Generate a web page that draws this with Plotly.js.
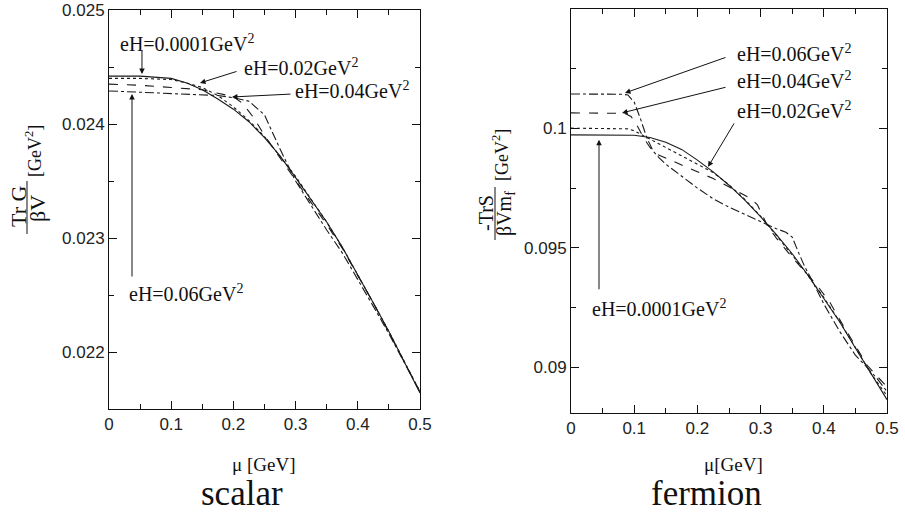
<!DOCTYPE html>
<html>
<head>
<meta charset="utf-8">
<script src="https://cdn.plot.ly/plotly-3.0.1.min.js"></script>
<style>html,body{margin:0;padding:0;background:#fff;}#chart{width:905px;height:514px;}</style>
</head>
<body>
<div id="chart"></div>
<script>
// ---------- scalar panel (left) ----------
const muS = [0, 0.05, 0.1, 0.125, 0.15, 0.175, 0.2, 0.225, 0.25, 0.275, 0.3, 0.325, 0.35, 0.375, 0.4, 0.425, 0.45, 0.475, 0.5];
const scalar_0001 = [0.02442, 0.02442, 0.02440, 0.02436, 0.02430, 0.02422, 0.02413, 0.02402, 0.02388, 0.02372, 0.02353, 0.02334, 0.02314, 0.02292, 0.02268, 0.02243, 0.02218, 0.02191, 0.02164];
const scalar_002  = [0.02440, 0.02440, 0.02439, 0.02436, 0.02432, 0.02425, 0.02415, 0.02403, 0.02389, 0.02372, 0.02354, 0.02334, 0.02314, 0.02292, 0.02268, 0.02243, 0.02218, 0.02191, 0.02165];
const muS_b = [0, 0.05, 0.1, 0.125, 0.15, 0.175, 0.2, 0.215, 0.232, 0.25, 0.275, 0.3, 0.325, 0.35, 0.375, 0.4, 0.425, 0.45, 0.475, 0.5];
const scalar_004  = [0.02435, 0.02434, 0.02432, 0.02431, 0.02430, 0.02427, 0.02424, 0.02418, 0.02406, 0.02390, 0.02370, 0.02351, 0.02331, 0.02312, 0.02291, 0.02267, 0.02243, 0.02217, 0.02191, 0.02165];
const muS_c = [0, 0.05, 0.1, 0.15, 0.175, 0.2, 0.225, 0.25, 0.26, 0.275, 0.3, 0.325, 0.35, 0.375, 0.4, 0.425, 0.45, 0.475, 0.5];
const scalar_006  = [0.02429, 0.02428, 0.02427, 0.02426, 0.02425, 0.02423, 0.02420, 0.02408, 0.02396, 0.02378, 0.02350, 0.02328, 0.02307, 0.02287, 0.02264, 0.02240, 0.02216, 0.02190, 0.02165];

// ---------- fermion panel (right) ----------
const muF = [0, 0.05, 0.1, 0.125, 0.15, 0.175, 0.2, 0.225, 0.25, 0.275, 0.3, 0.325, 0.35, 0.375, 0.4, 0.425, 0.45, 0.475, 0.5];
const fermion_0001 = [0.09973, 0.09973, 0.09971, 0.09962, 0.09942, 0.09912, 0.09867, 0.09818, 0.09762, 0.09700, 0.09630, 0.09555, 0.09475, 0.09385, 0.09290, 0.09190, 0.09080, 0.08970, 0.08864];
const muF_a = [0, 0.05, 0.09, 0.1, 0.11, 0.125, 0.15, 0.175, 0.2, 0.225, 0.25, 0.275, 0.3, 0.325, 0.35, 0.375, 0.4, 0.425, 0.45, 0.475, 0.5];
const fermion_002  = [0.10001, 0.10001, 0.09998, 0.09990, 0.09975, 0.09955, 0.09920, 0.09885, 0.09852, 0.09815, 0.09764, 0.09703, 0.09632, 0.09553, 0.09470, 0.09383, 0.09292, 0.09192, 0.09082, 0.08972, 0.08880];
const muF_b = [0, 0.05, 0.085, 0.095, 0.105, 0.115, 0.125, 0.135, 0.15, 0.175, 0.2, 0.225, 0.25, 0.27, 0.285, 0.295, 0.305, 0.31, 0.325, 0.35, 0.375, 0.39, 0.4, 0.41, 0.425, 0.45, 0.468, 0.485, 0.5];
const fermion_004  = [0.10065, 0.10065, 0.10063, 0.10050, 0.10010, 0.09960, 0.09920, 0.09893, 0.09875, 0.09845, 0.09818, 0.09790, 0.09755, 0.09725, 0.09705, 0.09680, 0.09620, 0.09596, 0.09540, 0.09460, 0.09385, 0.09340, 0.09305, 0.09270, 0.09200, 0.09090, 0.09010, 0.08960, 0.08918];
const muF_c = [0, 0.05, 0.08, 0.09, 0.1, 0.11, 0.12, 0.13, 0.14, 0.15, 0.175, 0.2, 0.225, 0.25, 0.275, 0.3, 0.31, 0.325, 0.34, 0.35, 0.36, 0.37, 0.38, 0.4, 0.425, 0.45, 0.468, 0.485, 0.5];
const fermion_006  = [0.10144, 0.10144, 0.10143, 0.10140, 0.10110, 0.10040, 0.09960, 0.09905, 0.09875, 0.09850, 0.09800, 0.09750, 0.09705, 0.09670, 0.09640, 0.09610, 0.09596, 0.09580, 0.09565, 0.09545, 0.09480, 0.09420, 0.09370, 0.09265, 0.09150, 0.09050, 0.09000, 0.08950, 0.08898];

// ---------- ticks ----------
const xTickVals = [0, 0.1, 0.2, 0.3, 0.4, 0.5];
const xTickText = ["0", "0.1", "0.2", "0.3", "0.4", "0.5"];
const yTickValsS = [0.022, 0.023, 0.024, 0.025];
const yTickTextS = ["0.022", "0.023", "0.024", "0.025"];
const yTickValsF = [0.09, 0.095, 0.1, 0.105];
const yTickTextF = ["0.09", "0.095", "0.1", "0.105"];

const lineStyles = ["solid", "dot", "dash", "dashdot"];
const lc = "#1a1a1a";
function tr(x, y, dash, xa, ya) {
  return {x: x, y: y, type: "scatter", mode: "lines", xaxis: xa, yaxis: ya,
          line: {color: lc, width: 1.1, dash: dash}, hoverinfo: "skip"};
}
const data = [
  tr(muS, scalar_0001, lineStyles[0], "x", "y"),
  tr(muS, scalar_002, lineStyles[1], "x", "y"),
  tr(muS_b, scalar_004, lineStyles[2], "x", "y"),
  tr(muS_c, scalar_006, lineStyles[3], "x", "y"),
  tr(muF, fermion_0001, lineStyles[0], "x2", "y2"),
  tr(muF_a, fermion_002, lineStyles[1], "x2", "y2"),
  tr(muF_b, fermion_004, lineStyles[2], "x2", "y2"),
  tr(muF_c, fermion_006, lineStyles[3], "x2", "y2")
];

const tickFont = {family: "Liberation Sans, Arial, sans-serif", size: 17, color: "#222"};
function axis(extra) {
  return Object.assign({
    showline: true, linecolor: "#111", linewidth: 1, mirror: "ticks",
    ticks: "inside", ticklen: 8, tickwidth: 1, tickcolor: "#111",
    showgrid: false, zeroline: false, tickfont: tickFont, tickmode: "array",
    fixedrange: true
  }, extra);
}
const W = 905, H = 514;
const px = v => v / W, py = v => 1 - v / H;
const serif = "Liberation Serif, DejaVu Serif, serif";
const annFont = {family: serif, size: 20, color: "#111"};

function lbl(text, x, y, xref, yref) {
  return {text: text, x: x, y: y, xref: xref, yref: yref, showarrow: false,
          xanchor: "left", yanchor: "middle", font: annFont};
}
function arr(x0, y0, x1, y1, xr, yr) {
  return {text: "", x: x1, y: y1, ax: x0, ay: y0, xref: xr, yref: yr, axref: xr, ayref: yr,
          showarrow: true, arrowhead: 2, arrowsize: 1.1, arrowwidth: 1, arrowcolor: "#111"};
}
function ptxt(text, x, y, size, angle) {
  return {text: text, x: px(x), y: py(y), xref: "paper", yref: "paper", showarrow: false,
          textangle: angle || 0, xanchor: "center", yanchor: "middle",
          font: {family: serif, size: size, color: "#111"}};
}
const sq = "GeV<sup>2</sup>";
const annotations = [
  // scalar panel labels
  lbl("eH=0.0001" + sq, 0.0145, 0.024711, "x", "y"),
  arr(0.053, 0.024658, 0.053, 0.024439, "x", "y"),
  lbl("eH=0.02" + sq, 0.2138, 0.02450, "x", "y"),
  arr(0.2074, 0.024465, 0.1463, 0.024360, "x", "y"),
  lbl("eH=0.04" + sq, 0.2958, 0.024298, "x", "y"),
  arr(0.2942, 0.024263, 0.1977, 0.024237, "x", "y"),
  lbl("eH=0.06" + sq, 0.0289, 0.022518, "x", "y"),
  arr(0.037, 0.022649, 0.037, 0.024263, "x", "y"),
  // fermion panel labels
  lbl("eH=0.06" + sq, 0.2595, 0.103159, "x2", "y2"),
  arr(0.2468, 0.102992, 0.0854, 0.101485, "x2", "y2"),
  lbl("eH=0.04" + sq, 0.2595, 0.102029, "x2", "y2"),
  arr(0.2468, 0.101736, 0.0807, 0.100649, "x2", "y2"),
  lbl("eH=0.02" + sq, 0.2595, 0.100774, "x2", "y2"),
  arr(0.2595, 0.100272, 0.2168, 0.098389, "x2", "y2"),
  lbl("eH=0.0001" + sq, 0.0301, 0.092490, "x2", "y2"),
  arr(0.0443, 0.093201, 0.0443, 0.099519, "x2", "y2"),
  // x axis titles
  ptxt("μ [GeV]", 263, 464, 19),
  ptxt("μ[GeV]", 733, 464, 19),
  // panel captions
  ptxt("scalar", 242, 493, 35),
  ptxt("fermion", 706, 493, 35),
  // y axis title: scalar
  ptxt("Tr G", 18, 207, 22, -90),
  ptxt("βV", 37, 209, 22, -90),
  ptxt("[GeV<sup>2</sup>]", 33, 151, 18, -90),
  // y axis title: fermion
  ptxt("-TrS", 486, 213, 20, -90),
  ptxt("βVm<sub>f</sub>", 505, 214, 20, -90),
  ptxt("[GeV<sup>2</sup>]", 500, 155, 18, -90)
];

const shapes = [
  {type: "line", xref: "paper", yref: "paper", x0: px(27), x1: px(27), y0: py(181), y1: py(234), line: {color: "#111", width: 1}},
  {type: "line", xref: "paper", yref: "paper", x0: px(495), x1: px(495), y0: py(187), y1: py(240), line: {color: "#111", width: 1}}
];

const layout = {
  width: W, height: H, margin: {l: 0, r: 0, t: 0, b: 0},
  paper_bgcolor: "#fff", plot_bgcolor: "#fff", showlegend: false,
  xaxis: axis({domain: [px(109), px(420)], range: [0, 0.5], anchor: "y",
               tickvals: xTickVals, ticktext: xTickText,
               minor: {ticks: "inside", ticklen: 5, tickvals: [0.05, 0.15, 0.25, 0.35, 0.45], tickcolor: "#111"}}),
  yaxis: axis({domain: [1 - 409 / H, 1 - 10 / H], range: [0.0215, 0.025], anchor: "x",
               tickvals: yTickValsS, ticktext: yTickTextS,
               minor: {ticks: "inside", ticklen: 5, tickvals: [0.0215, 0.0225, 0.0235, 0.0245], tickcolor: "#111"}}),
  xaxis2: axis({domain: [px(571), px(887)], range: [0, 0.5], anchor: "y2",
                tickvals: xTickVals, ticktext: xTickText,
                minor: {ticks: "inside", ticklen: 5, tickvals: [0.05, 0.15, 0.25, 0.35, 0.45], tickcolor: "#111"}}),
  yaxis2: axis({domain: [1 - 413 / H, 1 - 9 / H], range: [0.08808, 0.105], anchor: "x2",
                tickvals: yTickValsF, ticktext: yTickTextF,
                minor: {ticks: "inside", ticklen: 5, tickvals: [0.0925, 0.0975, 0.1025], tickcolor: "#111"}}),
  annotations: annotations,
  shapes: shapes
};

Plotly.newPlot("chart", data, layout, {staticPlot: true, displayModeBar: false});
</script>
</body>
</html>
